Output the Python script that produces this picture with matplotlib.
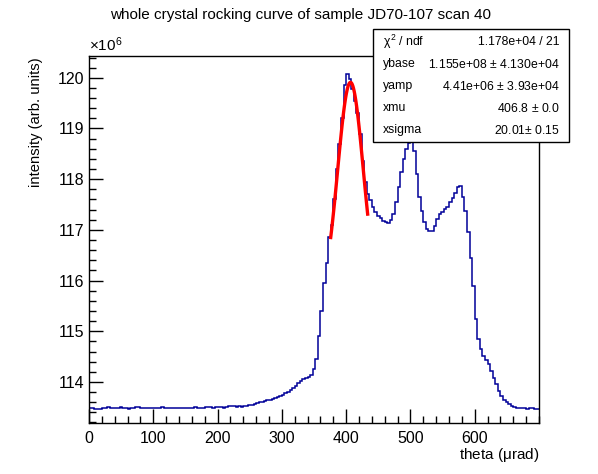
import numpy as np
import matplotlib
matplotlib.use('Agg')
import matplotlib.pyplot as plt
from matplotlib.ticker import MultipleLocator

plt.rcParams['font.family'] = ['Liberation Sans', 'DejaVu Sans']
plt.rcParams['mathtext.fontset'] = 'custom'
plt.rcParams['mathtext.rm'] = 'Liberation Sans'
plt.rcParams['mathtext.it'] = 'Liberation Sans'

###############################################################################
# histogram: 175 bins of 4 urad from 0 to 700, contents in units of 1e6
bin_lo = 0.0
bin_hi = 700.0
counts = [
    113.49, 113.49, 113.47, 113.46, 113.47, 113.48, 113.49, 113.50, 113.49, 113.48,
    113.48, 113.49, 113.50, 113.49, 113.48, 113.47, 113.48, 113.49, 113.50, 113.50,
    113.49, 113.48, 113.48, 113.49, 113.48, 113.48, 113.49, 113.49, 113.50, 113.49,
    113.49, 113.49, 113.48, 113.49, 113.48, 113.48, 113.49, 113.49, 113.48, 113.48,
    113.49, 113.50, 113.49, 113.48, 113.49, 113.50, 113.51, 113.50, 113.49, 113.50,
    113.51, 113.50, 113.49, 113.50, 113.52, 113.53, 113.52, 113.51, 113.52, 113.51,
    113.52, 113.53, 113.54, 113.55, 113.57, 113.58, 113.60, 113.60, 113.62, 113.64,
    113.65, 113.67, 113.68, 113.70, 113.72, 113.75, 113.78, 113.81, 113.84, 113.88,
    113.92, 113.97, 114.02, 114.05, 114.07, 114.10, 114.13, 114.25, 114.45, 114.90,
    115.40, 115.95, 116.35, 116.85, 117.10, 117.60, 118.20, 118.70, 119.20, 119.85,
    120.07, 119.98, 119.78, 119.55, 119.30, 118.90, 118.35, 117.95, 117.70, 117.58,
    117.45, 117.36, 117.28, 117.24, 117.18, 117.15, 117.14, 117.20, 117.32, 117.55,
    117.85, 118.15, 118.40, 118.60, 118.72, 118.75, 118.55, 118.10, 117.65, 117.38,
    117.15, 117.02, 116.97, 116.98, 117.08, 117.22, 117.32, 117.36, 117.42, 117.46,
    117.55, 117.62, 117.72, 117.84, 117.87, 117.65, 117.38, 116.95, 116.45, 115.90,
    115.25, 114.85, 114.65, 114.52, 114.43, 114.35, 114.22, 114.08, 113.95, 113.82,
    113.72, 113.65, 113.60, 113.56, 113.52, 113.50, 113.49, 113.48, 113.48, 113.48,
    113.47, 113.48, 113.48, 113.47, 113.46,
]

# gaussian fit parameters (from the stats box)
ybase = 1.155e8
yamp = 4.41e6
xmu = 406.8
xsigma = 20.01
fit_lo = 376.0
fit_hi = 433.5

stat_names = ['$\\chi^{2}$ / ndf', 'ybase', 'yamp', 'xmu', 'xsigma']
stat_values = ['1.178e+04 / 21', '1.155e+08 $\\pm$ 4.130e+04',
               '4.41e+06 $\\pm$ 3.93e+04', '406.8 $\\pm$ 0.0',
               '20.01$\\pm$ 0.15']
###############################################################################
fig = plt.figure(figsize=(5.98, 4.74), dpi=100)
ax = fig.add_axes([0.1488, 0.1076, 0.7525, 0.7743])

edges = np.linspace(bin_lo, bin_hi, len(counts) + 1)
ax.stairs(counts, edges, baseline=None, color='#000099', lw=1.1)

# fit curve drawn from the box parameters over the fit range
xf = np.linspace(fit_lo, fit_hi, 100)
yf = (ybase + yamp * np.exp(-0.5 * ((xf - xmu) / xsigma) ** 2)) / 1e6
ax.plot(xf, yf, color='red', lw=2.4)

ax.set_xlim(0, 700)
ax.set_ylim(113.19, 120.43)

ax.xaxis.set_major_locator(MultipleLocator(100))
ax.xaxis.set_minor_locator(MultipleLocator(20))
ax.yaxis.set_major_locator(MultipleLocator(1))
ax.yaxis.set_minor_locator(MultipleLocator(0.2))
ax.tick_params(which='both', direction='in', top=False, right=False,
               labelsize=11.5, width=1)
ax.tick_params(which='major', length=10)
ax.tick_params(which='minor', length=5)
ax.tick_params(axis='x', pad=6)
ax.set_xticks(range(0, 700, 100))
for s in ax.spines.values():
    s.set_linewidth(1)

ax.text(0.0, 1.005, '$\\times$10$^{6}$', transform=ax.transAxes,
        fontsize=11, ha='left', va='bottom')

fig.text(0.502, 0.968, 'whole crystal rocking curve of sample JD70-107 scan 40',
         ha='center', va='center', fontsize=11)
fig.text(0.9013, 0.04, 'theta ($\\mu$rad)', ha='right', va='center', fontsize=11)
fig.text(0.060, 0.878, 'intensity (arb. units)', ha='center', va='top',
         rotation=90, fontsize=10.6)

# stats box
bx0, by0, bx1, by1 = 373 / 598, 1 - 142 / 474, 569 / 598, 1 - 29 / 474
fig.patches.append(plt.Rectangle((bx0, by0), bx1 - bx0, by1 - by0,
                                 transform=fig.transFigure, fc='white',
                                 ec='black', lw=1, zorder=5))
rows_y = [42, 64, 86, 108, 130]
for name, val, py in zip(stat_names, stat_values, rows_y):
    fig.text(383 / 598, 1 - py / 474, name, ha='left', va='center',
             fontsize=8.8, zorder=6)
    fig.text(560 / 598, 1 - py / 474, val, ha='right', va='center',
             fontsize=8.8, zorder=6)

fig.savefig('out.png', dpi=100)
